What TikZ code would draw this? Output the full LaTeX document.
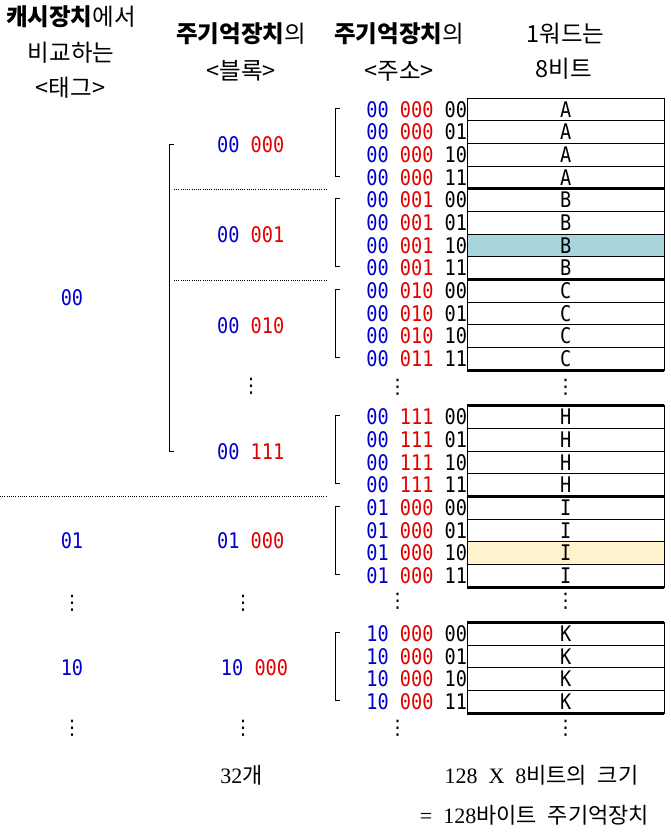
\documentclass[tikz,border=0pt]{standalone}
\usepackage{fontspec}
\setmainfont{Noto Sans CJK KR}
\newfontfamily\monof{DejaVu Sans Mono}[FakeStretch=0.865]
\newfontfamily\serf{Liberation Serif}[WordSpace=2]
\newfontfamily\krw{Noto Sans CJK KR}[WordSpace=2.2]
\newfontfamily\symf{DejaVu Sans}
\definecolor{tagblue}{RGB}{0,0,205}
\definecolor{blkred}{RGB}{225,0,0}
\definecolor{hlblue}{RGB}{168,212,220}
\definecolor{hlyellow}{RGB}{255,242,204}
\tikzset{
  mono/.style={font=\monof\fontsize{21.5}{22}\selectfont, inner sep=0},
  cell/.style={draw, line width=1, minimum width=197, minimum height=22.67, inner sep=0, font=\monof\fontsize{21.5}{22}\selectfont},
  thickline/.style={line width=3},
  brk/.style={line width=1},
  head/.style={font=\fontsize{23.5}{26}\selectfont, inner sep=0},
  foot/.style={font=\krw\fontsize{22}{24}\selectfont, inner sep=0},
  vdot/.style={font=\symf\fontsize{20}{20}\selectfont, inner sep=0},
  dotline/.style={line width=0.8, dash pattern=on 1 off 1.2},
}
\newcommand\addrrow[8]{%
  \pgfmathsetmacro\yy{#2+22.667*(#3-0.5)}%
  \node[cell, fill=#8] (r#1) at (565.7,\yy) {#7};
  \node[mono, anchor=east] (a#1) at (467.3,\yy) {\textcolor{tagblue}{#4} \textcolor{blkred}{#5} #6};
}
\newcommand\blkbracket[2]{%
  \draw[brk] (340,#1+10) -- (335,#1+10) -- (335,#1+78) -- (340,#1+78);
  \draw[thickline] (467.3,#1+90.67) -- (664.3,#1+90.67);
  \ifnum#2=1 \draw[thickline] (467.3,#1) -- (664.3,#1);\fi
}
\begin{document}
\begin{tikzpicture}[x=1pt,y=-1pt]
\useasboundingbox (0,0) rectangle (670,833);
% headers
\node[head] (h1a) at (71,16.5) {{\bfseries 캐시장치}에서};
\node[head] (h1b) at (71,52.5) {비교하는};
\node[head] (h1c) at (70.5,87.5) {<태그>};
\node[head] (h2a) at (241,33.5) {{\bfseries 주기억장치}의};
\node[head] (h2b) at (241,71) {<블록>};
\node[head] (h3a) at (399,33.5) {{\bfseries 주기억장치}의};
\node[head] (h3b) at (399,71) {<주소>};
\node[head] (h4a) at (565.5,34) {1워드는};
\node[head] (h4b) at (564,68.5) {8비트};
% memory rows
\addrrow{1}{98}{1}{00}{000}{00}{A}{white}
\addrrow{2}{98}{2}{00}{000}{01}{A}{white}
\addrrow{3}{98}{3}{00}{000}{10}{A}{white}
\addrrow{4}{98}{4}{00}{000}{11}{A}{white}
\addrrow{5}{188.67}{1}{00}{001}{00}{B}{white}
\addrrow{6}{188.67}{2}{00}{001}{01}{B}{white}
\addrrow{7}{188.67}{3}{00}{001}{10}{B}{hlblue}
\addrrow{8}{188.67}{4}{00}{001}{11}{B}{white}
\addrrow{9}{279.33}{1}{00}{010}{00}{C}{white}
\addrrow{10}{279.33}{2}{00}{010}{01}{C}{white}
\addrrow{11}{279.33}{3}{00}{010}{10}{C}{white}
\addrrow{12}{279.33}{4}{00}{011}{11}{C}{white}
\addrrow{13}{405.67}{1}{00}{111}{00}{H}{white}
\addrrow{14}{405.67}{2}{00}{111}{01}{H}{white}
\addrrow{15}{405.67}{3}{00}{111}{10}{H}{white}
\addrrow{16}{405.67}{4}{00}{111}{11}{H}{white}
\addrrow{17}{496.33}{1}{01}{000}{00}{I}{white}
\addrrow{18}{496.33}{2}{01}{000}{01}{I}{white}
\addrrow{19}{496.33}{3}{01}{000}{10}{I}{hlyellow}
\addrrow{20}{496.33}{4}{01}{000}{11}{I}{white}
\addrrow{21}{622.33}{1}{10}{000}{00}{K}{white}
\addrrow{22}{622.33}{2}{10}{000}{01}{K}{white}
\addrrow{23}{622.33}{3}{10}{000}{10}{K}{white}
\addrrow{24}{622.33}{4}{10}{000}{11}{K}{white}
\blkbracket{98}{0}
\blkbracket{188.67}{1}
\blkbracket{279.33}{1}
\blkbracket{405.67}{1}
\blkbracket{496.33}{1}
\blkbracket{622.33}{1}
% address dots
\node[vdot] (ad1) at (397.7,387.7) {⋮};
\node[vdot] (ad2) at (565.7,387.7) {⋮};
\node[vdot] (ad3) at (397.7,601.7) {⋮};
\node[vdot] (ad4) at (565.7,601.7) {⋮};
\node[vdot] (ad5) at (397.7,728.3) {⋮};
\node[vdot] (ad6) at (565.7,728.3) {⋮};
% block labels
\node[mono] (b1) at (250.7,144.3) {\textcolor{tagblue}{00} \textcolor{blkred}{000}};
\node[mono] (b2) at (250.7,235) {\textcolor{tagblue}{00} \textcolor{blkred}{001}};
\node[mono] (b3) at (250.7,326) {\textcolor{tagblue}{00} \textcolor{blkred}{010}};
\node[vdot] (bd1) at (251,386.7) {⋮};
\node[mono] (b4) at (250.7,451.7) {\textcolor{tagblue}{00} \textcolor{blkred}{111}};
\node[mono] (b5) at (250.7,541) {\textcolor{tagblue}{01} \textcolor{blkred}{000}};
\node[vdot] (bd2) at (243,603.3) {⋮};
\node[mono] (b6) at (254.5,667.7) {\textcolor{tagblue}{10} \textcolor{blkred}{000}};
\node[vdot] (bd3) at (243,728.3) {⋮};
% tags
\node[mono] (t1) at (72,297.7) {\textcolor{tagblue}{00}};
\node[mono] (t2) at (72,541) {\textcolor{tagblue}{01}};
\node[vdot] (td1) at (72,603.3) {⋮};
\node[mono] (t3) at (72,667.7) {\textcolor{tagblue}{10}};
\node[vdot] (td2) at (72,728.3) {⋮};
% big bracket and separators
\draw[brk] (174,144.3) -- (169.3,144.3) -- (169.3,451) -- (174,451);
\draw[dotline] (174,189.3) -- (327,189.3);
\draw[dotline] (174,280.3) -- (327,280.3);
\draw[dotline] (0,496.7) -- (327,496.7);
% footer
\node[foot] (f1) at (241.5,775) {{\serf 32}개};
\node[foot] (f2) at (541.5,775) {{\serf 128 X 8}비트의 크기};
\node[foot] (f3) at (534.5,815) {{\serf = 128}바이트 주기억장치};
\end{tikzpicture}
\end{document}
